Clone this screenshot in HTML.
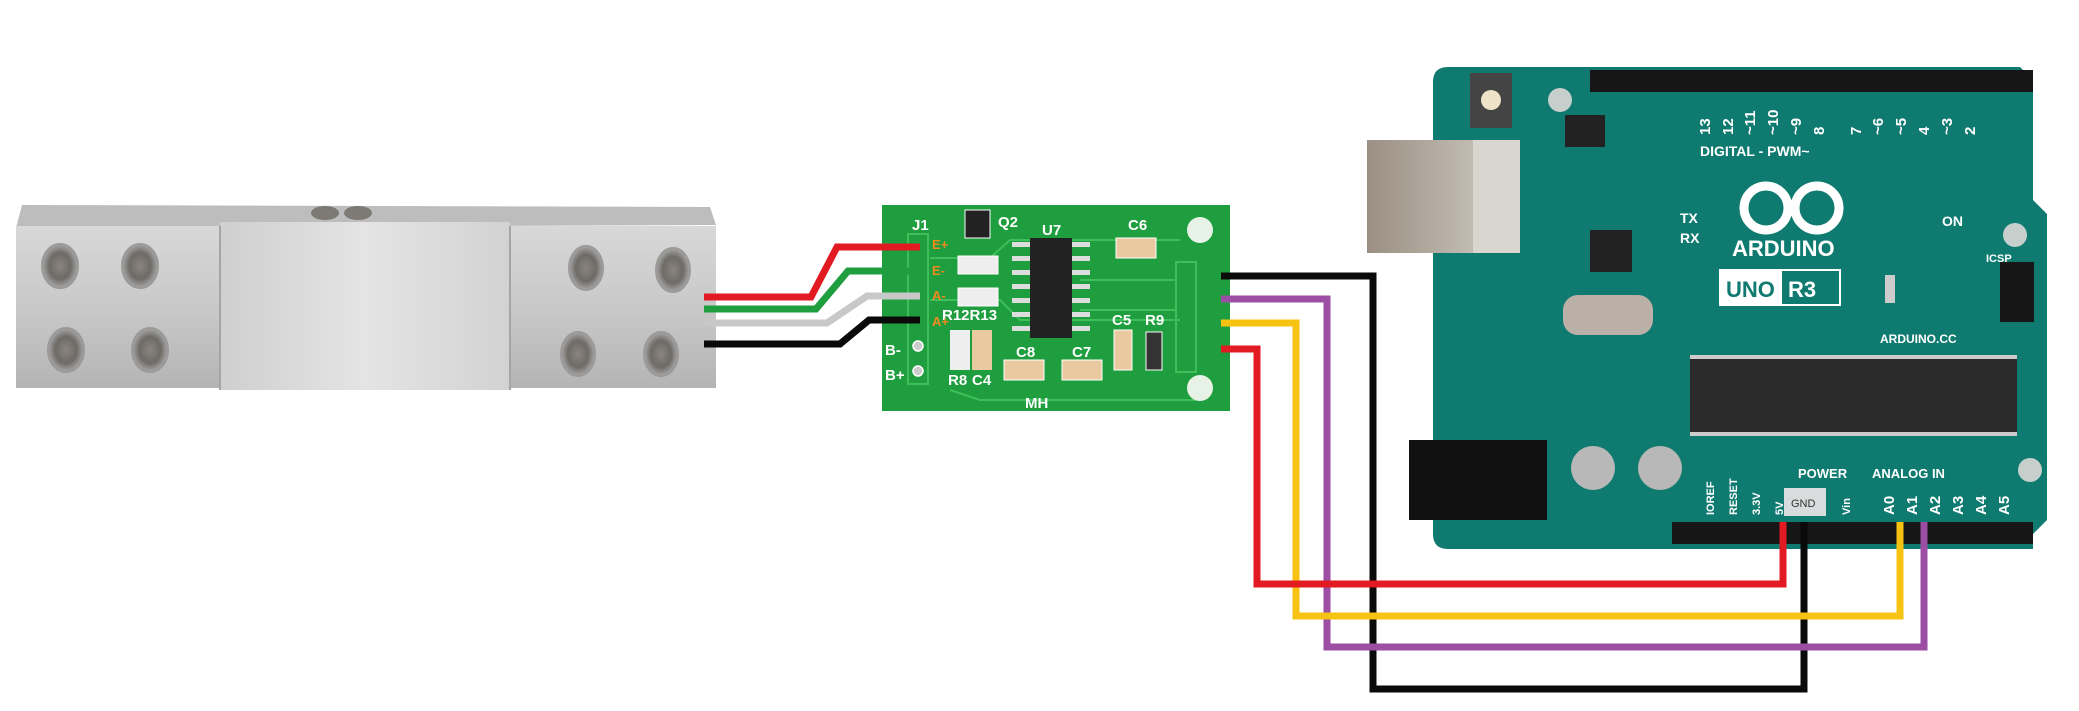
<!DOCTYPE html>
<html><head><meta charset="utf-8"><style>
html,body{margin:0;padding:0;background:#fff;}
svg{display:block;}
text{font-family:"Liberation Sans",sans-serif;}
</style></head><body>
<svg width="2079" height="711" viewBox="0 0 2079 711" xmlns="http://www.w3.org/2000/svg">
<defs>
<linearGradient id="al" x1="0" y1="0" x2="0" y2="1"><stop offset="0" stop-color="#d8d8d8"/><stop offset="0.5" stop-color="#c9c9c9"/><stop offset="1" stop-color="#b4b4b4"/></linearGradient>
<linearGradient id="alm" x1="0" y1="0" x2="1" y2="0"><stop offset="0" stop-color="#cfcfcf"/><stop offset="0.5" stop-color="#e4e4e4"/><stop offset="1" stop-color="#d2d2d2"/></linearGradient>
<radialGradient id="hole"><stop offset="0" stop-color="#8a8580"/><stop offset="0.6" stop-color="#6e6a66"/><stop offset="1" stop-color="#a8a8a8"/></radialGradient>
<linearGradient id="usb" x1="0" y1="0" x2="1" y2="0"><stop offset="0" stop-color="#9a8f82"/><stop offset="0.7" stop-color="#c2bcb3"/><stop offset="1" stop-color="#e2ded8"/></linearGradient>
</defs>

<!-- Load cell -->
<polygon points="22,205 710,207 716,225 16,228" fill="#bdbdbd"/>
<rect x="16" y="226" width="700" height="162" fill="url(#al)"/>
<rect x="220" y="222" width="290" height="168" fill="url(#alm)"/>
<line x1="220" y1="226" x2="220" y2="390" stroke="#a5a5a5" stroke-width="2"/>
<line x1="510" y1="226" x2="510" y2="390" stroke="#a5a5a5" stroke-width="2"/>
<ellipse cx="325" cy="213" rx="14" ry="7" fill="#7d7974"/>
<ellipse cx="358" cy="213" rx="14" ry="7" fill="#7d7974"/>
<g fill="url(#hole)" stroke="#9a9a9a" stroke-width="2">
<ellipse cx="60" cy="266" rx="18" ry="22"/><ellipse cx="140" cy="266" rx="18" ry="22"/>
<ellipse cx="66" cy="350" rx="18" ry="22"/><ellipse cx="150" cy="350" rx="18" ry="22"/>
<ellipse cx="586" cy="268" rx="17" ry="22"/><ellipse cx="673" cy="270" rx="17" ry="22"/>
<ellipse cx="578" cy="354" rx="17" ry="22"/><ellipse cx="661" cy="354" rx="17" ry="22"/>
</g>

<!-- HX711 board -->
<rect x="882" y="205" width="348" height="206" fill="#1e9e3e"/>
<g stroke="#3fbf5a" stroke-width="2" fill="none">
<rect x="908" y="234" width="20" height="150"/>
<rect x="1176" y="262" width="20" height="110"/>
<path d="M930 258 H990 L1010 240 H1180"/><path d="M930 300 H1000 L1020 320 H1180"/>
<path d="M950 390 L980 400 H1200"/><path d="M1080 280 H1176"/><path d="M1080 310 H1176"/>
</g>
<circle cx="1200" cy="230" r="13" fill="#e6f2e6"/><circle cx="1200" cy="388" r="13" fill="#e6f2e6"/>
<rect x="1030" y="238" width="42" height="100" fill="#222"/>
<g fill="#ddd"><rect x="1012" y="242" width="18" height="5"/><rect x="1012" y="256" width="18" height="5"/><rect x="1012" y="270" width="18" height="5"/><rect x="1012" y="284" width="18" height="5"/><rect x="1012" y="298" width="18" height="5"/><rect x="1012" y="312" width="18" height="5"/><rect x="1012" y="326" width="18" height="5"/>
<rect x="1072" y="242" width="18" height="5"/><rect x="1072" y="256" width="18" height="5"/><rect x="1072" y="270" width="18" height="5"/><rect x="1072" y="284" width="18" height="5"/><rect x="1072" y="298" width="18" height="5"/><rect x="1072" y="312" width="18" height="5"/><rect x="1072" y="326" width="18" height="5"/></g>
<rect x="958" y="256" width="40" height="18" fill="#eee" stroke="#fff"/><rect x="958" y="288" width="40" height="18" fill="#eee" stroke="#fff"/>
<rect x="950" y="330" width="20" height="40" fill="#eee"/><rect x="972" y="330" width="20" height="40" fill="#e8c9a0"/>
<rect x="1004" y="360" width="40" height="20" fill="#e8c9a0" stroke="#fff"/><rect x="1062" y="360" width="40" height="20" fill="#e8c9a0" stroke="#fff"/>
<rect x="1114" y="330" width="18" height="40" fill="#e8c9a0" stroke="#fff"/><rect x="1146" y="332" width="16" height="38" fill="#333" stroke="#fff"/>
<rect x="1116" y="238" width="40" height="20" fill="#e8c9a0" stroke="#fff"/>
<rect x="965" y="210" width="25" height="28" fill="#222" stroke="#fff"/>
<g fill="#fff" font-size="15" font-weight="bold">
<text x="912" y="230">J1</text><text x="998" y="227">Q2</text><text x="1042" y="235">U7</text><text x="1128" y="230">C6</text>
<text x="942" y="320">R12R13</text><text x="1112" y="325">C5</text><text x="1145" y="325">R9</text>
<text x="1016" y="357">C8</text><text x="1072" y="357">C7</text><text x="948" y="385">R8</text><text x="972" y="385">C4</text>
<text x="885" y="355">B-</text><text x="885" y="380">B+</text><text x="1025" y="408">MH</text></g>
<g fill="#f08a1e" font-size="13" font-weight="bold"><text x="932" y="249">E+</text><text x="932" y="275">E-</text><text x="932" y="300">A-</text><text x="932" y="326">A+</text></g>
<g fill="#ccc" stroke="#fff" stroke-width="1.5"><circle cx="918" cy="346" r="5"/><circle cx="918" cy="371" r="5"/></g>

<!-- Arduino -->
<path d="M1433 82 Q1433 67 1448 67 H2020 L2033 80 V200 L2047 214 V520 L2033 534 V549 H1448 Q1433 549 1433 534 Z" fill="#0f7a70"/>
<g fill="#c7cfcd"><circle cx="1475" cy="470" r="12"/><circle cx="2030" cy="470" r="12"/><circle cx="2015" cy="235" r="12"/><circle cx="1560" cy="100" r="12"/></g>
<rect x="1590" y="70" width="443" height="22" fill="#161616"/>
<rect x="1672" y="522" width="361" height="22" fill="#161616"/>
<rect x="1367" y="140" width="153" height="113" fill="url(#usb)"/>
<rect x="1473" y="140" width="47" height="113" fill="#d9d5cf"/>
<rect x="1470" y="73" width="42" height="55" fill="#444"/><circle cx="1491" cy="100" r="10" fill="#eee3c8"/>
<rect x="1409" y="440" width="138" height="80" fill="#111"/>
<rect x="1690" y="358" width="327" height="75" fill="#2a2a2a"/>
<g fill="#ccc"><rect x="1690" y="355" width="327" height="4"/><rect x="1690" y="432" width="327" height="4"/></g>
<circle cx="1593" cy="468" r="22" fill="#b8b8b8"/><circle cx="1660" cy="468" r="22" fill="#b8b8b8"/>
<rect x="1563" y="295" width="90" height="40" rx="15" fill="#bbb0a8"/>
<rect x="1590" y="230" width="42" height="42" fill="#222"/>
<rect x="1565" y="115" width="40" height="32" fill="#222"/>
<rect x="1720" y="270" width="120" height="35" fill="none" stroke="#fff" stroke-width="2"/>
<rect x="1720" y="270" width="62" height="35" fill="#fff"/>
<rect x="1885" y="275" width="10" height="28" fill="#ccc"/>
<rect x="2000" y="262" width="34" height="60" fill="#161616"/>
<g fill="none" stroke="#fff" stroke-width="9"><circle cx="1766" cy="208" r="22"/><circle cx="1817" cy="208" r="22"/></g>
<g font-family="Liberation Mono,monospace" fill="#fff" font-weight="bold">
<text x="1732" y="256" font-size="22">ARDUINO</text>
<text x="1726" y="297" font-size="22" fill="#0f7a70">UNO</text><text x="1788" y="297" font-size="22">R3</text>
<text x="1880" y="343" font-size="12">ARDUINO.CC</text>
<text x="1700" y="156" font-size="14">DIGITAL - PWM~</text>
<text x="1942" y="226" font-size="14">ON</text><text x="1986" y="262" font-size="11">ICSP</text>
<text x="1680" y="223" font-size="14">TX</text><text x="1680" y="243" font-size="14">RX</text>
<text x="1798" y="478" font-size="13">POWER</text><text x="1872" y="478" font-size="13">ANALOG IN</text>
</g>
<rect x="1784" y="488" width="42" height="28" fill="#d8dcdc"/>
<text x="1791" y="507" font-size="11" fill="#333" font-family="Liberation Mono,monospace">GND</text>
<g font-family="Liberation Mono,monospace" fill="#fff" font-size="15" font-weight="bold">
<text transform="translate(1710,135) rotate(-90)">13</text><text transform="translate(1733,135) rotate(-90)">12</text><text transform="translate(1755,135) rotate(-90)">~11</text><text transform="translate(1778,135) rotate(-90)">~10</text><text transform="translate(1801,135) rotate(-90)">~9</text><text transform="translate(1824,135) rotate(-90)">8</text><text transform="translate(1861,135) rotate(-90)">7</text><text transform="translate(1883,135) rotate(-90)">~6</text><text transform="translate(1906,135) rotate(-90)">~5</text><text transform="translate(1929,135) rotate(-90)">4</text><text transform="translate(1952,135) rotate(-90)">~3</text><text transform="translate(1975,135) rotate(-90)">2</text>
<text transform="translate(1894,515) rotate(-90)">A0</text><text transform="translate(1917,515) rotate(-90)">A1</text><text transform="translate(1940,515) rotate(-90)">A2</text><text transform="translate(1963,515) rotate(-90)">A3</text><text transform="translate(1986,515) rotate(-90)">A4</text><text transform="translate(2009,515) rotate(-90)">A5</text>
</g>
<g font-family="Liberation Mono,monospace" fill="#fff" font-size="11" font-weight="bold">
<text transform="translate(1714,515) rotate(-90)">IOREF</text><text transform="translate(1737,515) rotate(-90)">RESET</text><text transform="translate(1760,515) rotate(-90)">3.3V</text><text transform="translate(1783,515) rotate(-90)">5V</text><text transform="translate(1850,515) rotate(-90)">Vin</text>
</g>

<!-- Wires -->
<g fill="none" stroke-width="7" stroke-linejoin="miter">
<polyline points="704,297 811,297 837,247 920,247" stroke="#e21b23"/>
<polyline points="704,309 816,309 848,271 920,271" stroke="#1f9e40"/>
<polyline points="704,323 827,323 867,296 920,296" stroke="#c8c8c8"/>
<polyline points="704,344 840,344 869,320 920,320" stroke="#0a0a0a"/>
<polyline points="1221,276 1373,276 1373,689 1804,689 1804,522" stroke="#0a0a0a"/>
<polyline points="1221,299 1327,299 1327,647 1924,647 1924,522" stroke="#9b4ea3"/>
<polyline points="1221,323 1296,323 1296,616 1900,616 1900,522" stroke="#f7c312"/>
<polyline points="1221,349 1257,349 1257,584 1783,584 1783,522" stroke="#e21b23"/>
</g>
</svg>
</body></html>
